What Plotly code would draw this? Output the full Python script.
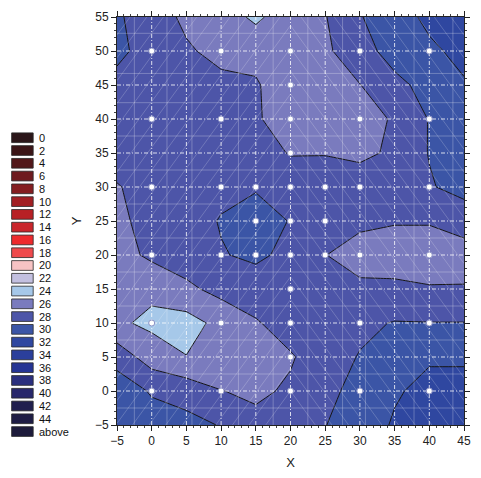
import plotly.graph_objects as go

# ---------------- data ----------------
x_grid = [-5, 0, 5, 10, 15, 20, 25, 30, 35, 40, 45]
y_grid = [-5, 0, 5, 10, 15, 20, 25, 30, 35, 40, 45, 50, 55]

z_m5 = [29.5, 28.9, 28.6, 27.9, 26.6, 27.0, 27.95, 29.0, 30.2, 30.6, 30.7]
z_0 = [29.2, 27.8, 27.2, 26.05, 25.6, 26.3, 27.6, 28.5, 29.8, 30.5, 30.5]
z_5 = [27.2, 25.0, 24.05, 24.6, 25.3, 25.8, 27.2, 28.1, 29.0, 29.8, 29.8]
z_10 = [24.3, 23.6, 23.2, 24.6, 25.8, 27.0, 27.3, 27.6, 28.1, 28.05, 28.05]
z_15 = [24.9, 24.4, 25.6, 26.6, 27.2, 26.9, 26.05, 26.2, 26.3, 26.1, 26.1]
z_20 = [25.2, 26.4, 27.0, 27.9, 28.3, 27.6, 26.02, 25.6, 25.3, 25.3, 25.4]
z_25 = [25.5, 26.8, 27.3, 28.1, 29.0, 27.9, 27.2, 26.2, 26.1, 26.1, 26.6]
z_30 = [25.8, 27.2, 27.4, 27.6, 27.8, 27.0, 27.2, 27.0, 27.3, 27.8, 28.8]
z_35 = [27.4, 27.3, 27.1, 27.0, 26.7, 25.9, 25.9, 25.6, 26.3, 28.1, 28.8]
z_40 = [27.4, 27.2, 26.9, 26.7, 26.3, 24.7, 24.9, 25.2, 26.2, 28.1, 28.8]
z_45 = [27.5, 27.3, 26.8, 26.6, 26.2, 24.8, 24.9, 25.95, 27.6, 28.5, 29.8]
z_50 = [28.4, 27.3, 26.3, 25.3, 25.4, 24.8, 25.6, 27.4, 28.6, 29.6, 30.6]
z_55 = [28.2, 27.2, 25.5, 25.0, 23.6, 25.2, 25.9, 27.9, 29.0, 30.5, 31.5]
z_rows = [z_m5, z_0, z_5, z_10, z_15, z_20, z_25, z_30, z_35, z_40, z_45, z_50, z_55]

sample_x = [0, 10, 20, 30, 40,
            20,
            0, 10, 20, 30, 40,
            20,
            0, 10, 15, 20, 25, 30, 40,
            15, 20, 25,
            0, 10, 15, 20, 25, 30, 40,
            20,
            0, 10, 20, 30, 40,
            20,
            0, 10, 20, 30, 40]
sample_y = [50, 50, 50, 50, 50,
            45,
            40, 40, 40, 40, 40,
            35,
            30, 30, 30, 30, 30, 30, 30,
            25, 25, 25,
            20, 20, 20, 20, 20, 20, 20,
            15,
            10, 10, 10, 10, 10,
            5,
            0, 0, 0, 0, 0]

levels = list(range(0, 46, 2))
legend_labels = [str(v) for v in levels] + ["above"]
legend_colors = ["#2b1619", "#3b1517", "#521719", "#6e1b1f", "#841d20", "#a21f23",
                 "#b82025", "#c9252b", "#ed2a2d", "#ef4a4c", "#f7c3c4", "#c3c0e0",
                 "#a6c8e9", "#7a7bbe", "#4d55a8", "#3b55a6", "#2f47a0", "#2b3f9b",
                 "#253494", "#2b2f7e", "#28276b", "#211f4e", "#1e1c44", "#1d1b3b"]

# ---------------- figure ----------------
W, H = 481, 478
ML, MR, MT, MB = 117, 10, 15, 43
PW, PH = W - ML - MR, H - MT - MB

fig = go.Figure()
n = len(legend_colors) - 1
colorscale = [[i / n, c] for i, c in enumerate(legend_colors)]
fig.add_trace(go.Contour(
    x=x_grid, y=y_grid, z=z_rows,
    contours=dict(start=levels[0], end=levels[-1], size=2, coloring="fill"),
    colorscale=colorscale, showscale=False,
    line=dict(color="#161616", width=1, smoothing=0),
    hoverinfo="skip"))

XMIN, XMAX, YMIN, YMAX = -5, 45, -5, 55

# faint mesh lines (decoration)
mesh_vx = [-2.5, 2.2, 5.8, 12.5, 17.5, 22.5, 27.5, 30.8, 37.8, 43.4]
mesh_hy = [-2.5, 2.5, 7.5, 12.5, 17.5, 22.5, 27.5, 32.5, 37.5, 42.4, 46.7, 52.6]
lx, ly = [], []
for v in mesh_vx:
    lx += [v, v, None]; ly += [YMIN, YMAX, None]
for v in mesh_hy:
    lx += [XMIN, XMAX, None]; ly += [v, v, None]
fig.add_trace(go.Scatter(x=lx, y=ly, mode="lines", line=dict(color="rgba(255,255,255,0.26)", width=1),
                         hoverinfo="skip", showlegend=False))

# diagonal mesh: "/" left of x=20, mirrored "\" right of x=20
m = 1.4
dx, dy = [], []
c = 20.0
while c > -46:
    xa = max(XMIN, c + YMIN / m)
    xb = min(20, c + YMAX / m)
    if xb > xa:
        dx += [xa, xb, None]; dy += [m * (xa - c), m * (xb - c), None]
        dx += [40 - xa, 40 - xb, None]; dy += [m * (xa - c), m * (xb - c), None]
    c -= 2.4
fig.add_trace(go.Scatter(x=dx, y=dy, mode="lines", line=dict(color="rgba(255,255,255,0.2)", width=1),
                         hoverinfo="skip", showlegend=False))

# dotted major grid
gx, gy = [], []
for v in range(0, 45, 5):
    gx += [v, v, None]; gy += [YMIN, YMAX, None]
for v in range(0, 55, 5):
    gx += [XMIN, XMAX, None]; gy += [v, v, None]
fig.add_trace(go.Scatter(x=gx, y=gy, mode="lines",
                         line=dict(color="rgba(255,255,255,0.8)", width=1, dash="4px,2px,1px,2px"),
                         hoverinfo="skip", showlegend=False))

fig.add_trace(go.Scatter(x=sample_x, y=sample_y, mode="markers",
                         marker=dict(size=6, color="white", line=dict(color="#8d93c6", width=1)),
                         hoverinfo="skip", showlegend=False))

# legend (boxes + labels)
row0, step = 139.3, 13.15
shapes, annots = [], []
for i, (lab, col) in enumerate(zip(legend_labels, legend_colors)):
    cy = row0 + step * i
    y0 = (MT + PH - (cy + 5)) / PH
    y1 = (MT + PH - (cy - 5)) / PH
    shapes.append(dict(type="rect", xref="paper", yref="paper",
                       x0=(9.5 - ML) / PW, x1=(31.5 - ML) / PW, y0=y0, y1=y1,
                       fillcolor=col, line=dict(color="rgba(40,40,40,0.8)", width=1)))
    annots.append(dict(xref="paper", yref="paper", x=(35 - ML) / PW, y=(MT + PH - cy) / PH,
                       text=lab, showarrow=False, xanchor="left", yanchor="middle",
                       font=dict(size=11, color="#111")))

fig.update_layout(
    width=W, height=H, margin=dict(l=ML, r=MR, t=MT, b=MB),
    paper_bgcolor="white", plot_bgcolor="white", showlegend=False,
    font=dict(family="Liberation Sans, Arial, sans-serif", size=12, color="#222"),
    shapes=shapes, annotations=annots)

axis_common = dict(tickmode="linear", dtick=5, ticks="outside", ticklen=5, tickcolor="#222",
                   showline=True, linecolor="#222", linewidth=1, mirror="ticks",
                   showgrid=False, zeroline=False,
                   minor=dict(dtick=1, ticklen=2, ticks="outside", tickcolor="#444"),
                   tickfont=dict(size=12, color="#222"))
fig.update_xaxes(range=[XMIN, XMAX], tick0=-5, title=dict(text="X", standoff=10, font=dict(size=13)),
                 **axis_common)
fig.update_yaxes(range=[YMIN, YMAX], tick0=-5, title=dict(text="Y", standoff=10, font=dict(size=13)),
                 **axis_common)

fig.write_html("out.html")
